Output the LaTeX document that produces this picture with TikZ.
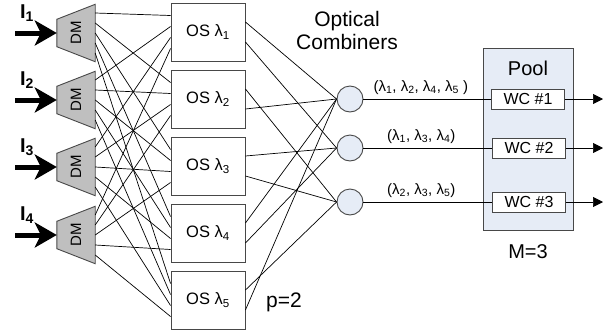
\documentclass[tikz,border=0pt]{standalone}
\usepackage{fontspec}
\setmainfont{Liberation Sans}
\usetikzlibrary{arrows,arrows.meta,shapes,positioning,calc}
\definecolor{dmgray}{RGB}{191,191,191}
\definecolor{edgegray}{RGB}{72,72,72}
\definecolor{paleblue}{RGB}{230,236,246}
\newcommand{\lam}[1]{λ\textsubscript{#1}}
\newcommand{\fsz}[1]{\fontsize{#1}{#1}\selectfont}

\begin{document}
\begin{tikzpicture}[x=1pt,y=-1pt]
    \tikzset{dmbox/.style = {minimum width=38pt,minimum height=57pt,inner sep=0pt}}
    \tikzset{dmshape/.style = {fill=dmgray,draw=edgegray,line width=0.9pt}}
    \tikzset{osbox/.style = {shape=rectangle,draw=edgegray,line width=0.9pt,minimum width=74pt,minimum height=58pt,font=\fsz{16.5}}}
    \tikzset{comb/.style = {shape=circle,draw=edgegray,fill=paleblue,line width=0.9pt,minimum size=26pt,inner sep=0pt}}
    \tikzset{pool/.style = {shape=rectangle,draw=edgegray,fill=paleblue,line width=0.9pt,minimum width=90pt,minimum height=182pt}}
    \tikzset{wcbox/.style = {shape=rectangle,draw=edgegray,fill=white,line width=0.9pt,minimum width=73pt,minimum height=20pt,inner sep=0pt,font=\fsz{16}}}
    \tikzset{mesh/.style = {line width=0.7pt}}
    \tikzset{inarrow/.style = {-{Stealth[length=22pt,width=25pt,inset=6pt]},line width=5pt}}
    \tikzset{outarrow/.style = {-{Triangle[length=10pt,width=10pt]},line width=0.7pt}}
    \useasboundingbox (0,0) rectangle (613,335);
    % demultiplexers
    \foreach \i/\y in {1/33,2/100,3/167,4/235}{
        \node[dmbox] (dm\i) at (76,\y) {};
        \filldraw[dmshape] (dm\i.north east) -- (dm\i.south east) -- ([yshift=15pt]dm\i.south west) -- ([yshift=-15pt]dm\i.north west) -- cycle;
        \node[rotate=90,font=\fsz{15}] at (dm\i) {DM};
        \coordinate (in\i) at (15,\y);
        \node[font=\bfseries\fsz{20}] (lbl\i) at (27,\y-20) {I\textsubscript{\i}};
        \draw[inarrow] (in\i) -- (dm\i.west);
    }
    % optical switches
    \foreach \j/\y in {1/32,2/99,3/166,4/233,5/300}
        \node[osbox] (os\j) at (208,\y) {OS \lam{\j}};
    % combiners, pool, converters
    \node[comb] (c1) at (350,99) {};
    \node[comb] (c2) at (350,148) {};
    \node[comb] (c3) at (350,202) {};
    \node[pool] (pool) at (528,139) {};
    \node[font=\fsz{20}] (poollbl) at (528,68) {Pool};
    \node[wcbox] (wc1) at (528,99) {WC \#1};
    \node[wcbox] (wc2) at (529,148) {WC \#2};
    \node[wcbox] (wc3) at (529,202) {WC \#3};
    \foreach \k/\y in {1/99,2/148,3/202}
        \coordinate (out\k) at (603,\y);
    \node[font=\fontsize{21}{23}\selectfont,align=center] (combtxt) at (347,30) {Optical\\Combiners};
    \node[font=\fsz{20}] (mtxt) at (528,252) {M=3};
    \node[font=\fsz{21}] (ptxt) at (284,302) {p=2};
    % full mesh DM -> OS
    \foreach \i in {1,...,4}
        \foreach \j in {1,...,5}
            \draw[mesh] ($(dm\i.east)+(0,{(\j-3)*10})$) -- ($(os\j.west)+(0,{(\i-2.5)*11})$);
    % OS -> combiners
    \foreach \j/\a/\b in {1/1/2,2/3/1,3/2/3,4/1/2,5/3/1}{
        \draw[mesh] ($(os\j.east)+(0,-10)$) -- (c\a.west);
        \draw[mesh] ($(os\j.east)+(0,10)$) -- (c\b.west);
    }
    % combiners -> pool
    \draw[mesh] (c1) -- (wc1) node[pos=0.45,above=1pt,font=\fsz{15}] {(\lam1, \lam2, \lam4, \lam5 )};
    \draw[mesh] (c2) -- (wc2) node[pos=0.45,above=1pt,font=\fsz{15}] {(\lam1, \lam3, \lam4)};
    \draw[mesh] (c3) -- (wc3) node[pos=0.45,above=1pt,font=\fsz{15}] {(\lam2, \lam3, \lam5)};
    \foreach \k in {1,2,3}
        \draw[outarrow] (wc\k) -- (out\k);
\end{tikzpicture}
\end{document}
